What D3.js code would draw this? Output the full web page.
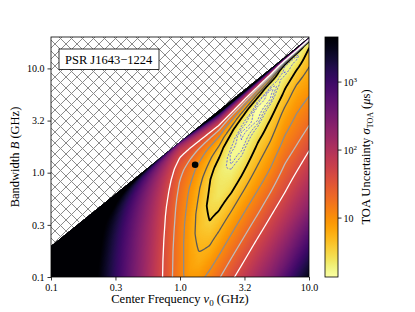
<!DOCTYPE html>
<html lang="en">
<head>
<meta charset="UTF-8">
<title>TOA uncertainty</title>
<style>
  body { margin: 0; background: #fff; }
  svg text { font-family: "Liberation Serif", "DejaVu Serif", serif; fill: #000; }
</style>
</head>
<body>
<svg id="chart" width="415" height="312"></svg>
<script src="https://d3js.org/d3.v7.min.js"></script>
<script>
/* global d3 */

// grid columns: center frequency nu0 (GHz)
const centerFreqs = [0.1, 0.2, 0.3, 0.4, 0.5, 0.6, 0.7, 0.8, 0.9, 1.0, 1.2, 1.4, 1.7, 2.0, 2.5, 3.0, 4.0, 5.0, 6.5, 8.0, 10.0];
// grid rows: fractional bandwidth B / (2 nu0); 1 means the band reaches 0 GHz
const bwRatios = [1.0, 0.98, 0.95, 0.9, 0.85, 0.8, 0.7, 0.6, 0.5, 0.4, 0.3, 0.25, 0.15, 0.1, 0.05, 0.025, 0.01, 0.004];
// log10 of the TOA uncertainty (us), one row per bwRatio, one column per centerFreq
const logSigma = [
  [4, 4, 4, 4, 4, 4, 4, 4, 4, 4, 4, 4, 4, 4, 4, 4, 4, 4, 4, 4, 4],
  [4, 4, 4, 4, 3.88, 3.58, 3.32, 3.09, 2.90, 2.85, 3.40, 3.93, 4, 4, 4, 4, 4, 4, 4, 4, 3.30],
  [4, 4, 4, 3.87, 3.50, 3.19, 2.93, 2.71, 2.51, 2.44, 2.78, 3.13, 3.61, 4, 3.96, 3.86, 3.53, 3.15, 2.60, 2.30, 1.60],
  [4, 4, 4, 3.58, 3.21, 2.90, 2.64, 2.42, 2.22, 2.12, 2.32, 2.52, 2.82, 3.08, 2.94, 2.79, 2.43, 2.05, 1.20, 0.90, 0.30],
  [4, 4, 3.89, 3.41, 3.04, 2.73, 2.47, 2.25, 2.05, 1.94, 2.05, 2.17, 2.36, 2.53, 2.34, 2.17, 1.78, 1.40, 0.60, 0.35, 0.28],
  [4, 4, 3.77, 3.29, 2.92, 2.61, 2.35, 2.13, 1.93, 1.81, 1.85, 1.92, 2.03, 2.13, 1.92, 1.72, 1.32, 0.95, 0.25, 0.22, 0.50],
  [4, 4, 3.60, 3.12, 2.75, 2.44, 2.18, 1.96, 1.76, 1.63, 1.58, 1.57, 1.57, 1.57, 1.32, 1.10, 0.70, 0.36, 0.22, 0.35, 0.60],
  [4, 4, 3.48, 3.00, 2.63, 2.32, 2.06, 1.84, 1.64, 1.50, 1.39, 1.32, 1.24, 1.18, 0.90, 0.65, 0.27, 0.13, 0.36, 0.52, 0.68],
  [4, 4, 3.39, 2.91, 2.53, 2.23, 1.97, 1.74, 1.55, 1.39, 1.24, 1.12, 0.98, 0.87, 0.57, 0.33, 0.11, 0.18, 0.50, 0.66, 0.76],
  [4, 3.99, 3.31, 2.83, 2.46, 2.15, 1.89, 1.67, 1.47, 1.31, 1.12, 0.96, 0.78, 0.62, 0.33, 0.16, 0.17, 0.38, 0.64, 0.80, 0.86],
  [4, 3.93, 3.25, 2.77, 2.39, 2.09, 1.83, 1.60, 1.41, 1.24, 1.01, 0.83, 0.60, 0.43, 0.21, 0.19, 0.38, 0.56, 0.80, 0.92, 0.98],
  [4, 3.90, 3.22, 2.74, 2.36, 2.06, 1.80, 1.57, 1.38, 1.21, 0.97, 0.77, 0.53, 0.36, 0.22, 0.26, 0.50, 0.64, 0.88, 1.00, 1.07],
  [4, 3.85, 3.17, 2.68, 2.31, 2.01, 1.75, 1.52, 1.33, 1.15, 0.89, 0.67, 0.46, 0.38, 0.43, 0.54, 0.74, 0.88, 1.10, 1.20, 1.30],
  [4, 3.82, 3.14, 2.66, 2.29, 1.98, 1.72, 1.50, 1.30, 1.13, 0.86, 0.66, 0.52, 0.55, 0.66, 0.77, 0.94, 1.08, 1.30, 1.40, 1.52],
  [4, 3.80, 3.12, 2.64, 2.26, 1.96, 1.70, 1.48, 1.28, 1.12, 0.88, 0.79, 0.82, 0.91, 1.05, 1.16, 1.33, 1.47, 1.63, 1.76, 1.89],
  [4, 3.79, 3.11, 2.63, 2.25, 1.95, 1.69, 1.47, 1.30, 1.16, 1.07, 1.10, 1.21, 1.30, 1.44, 1.55, 1.73, 1.86, 2.02, 2.15, 2.28],
  [4, 3.78, 3.10, 2.62, 2.25, 1.94, 1.70, 1.53, 1.45, 1.45, 1.51, 1.60, 1.72, 1.82, 1.96, 2.07, 2.24, 2.38, 2.60, 2.80, 3.00],
  [4, 3.78, 3.10, 2.62, 2.24, 1.98, 1.84, 1.83, 1.87, 1.92, 2.03, 2.12, 2.24, 2.34, 2.47, 2.59, 2.76, 3.00, 3.30, 3.50, 3.70]
];

// contour levels (us)
const dashedLevels = [1.5, 1.7, 1.9];
const lineLevels = [3.3, 5.6, 10.8, 21.5, 43];

// current observing setup (black dot)
const setupFreq = [1.31];
const setupBW = [1.19];

const colorRange = [1.36, 4600];
const xTicks = [0.1, 0.316, 1, 3.16, 10];
const xTickLabels = ["0.1", "0.3", "1.0", "3.2", "10.0"];
const yTicks = [0.1, 0.316, 1, 3.16, 10];
const yTickLabels = ["0.1", "0.3", "1.0", "3.2", "10.0"];
const cbTicks = [10, 100, 1000];
const cbTickExp = ["", "2", "3"];

const svg = d3.select("#chart");
const pLeft = 51, pRight = 309, pTop = 37, pBottom = 277;
const x = d3.scaleLog().domain([0.1, 10]).range([pLeft, pRight]);
const y = d3.scaleLog().domain([0.1, 20]).range([pBottom, pTop]);
const color = d3.scaleSequentialLog(t => d3.interpolateInferno(1 - t)).domain(colorRange).clamp(true);

// bilinear lookup in (log nu0, log ratio)
const uCols = centerFreqs.map(Math.log10);
const wRows = bwRatios.map(Math.log10);
function lookup(u, w) {
  u = Math.max(uCols[0], Math.min(uCols[uCols.length - 1], u));
  w = Math.min(0, Math.max(wRows[wRows.length - 1], w));
  let i = d3.bisectRight(uCols, u) - 1;
  i = Math.max(0, Math.min(uCols.length - 2, i));
  let k = 0;
  while (k < wRows.length - 2 && wRows[k + 1] > w) k++;
  const fu = (u - uCols[i]) / (uCols[i + 1] - uCols[i]);
  const fw = (wRows[k] - w) / (wRows[k] - wRows[k + 1]);
  const a = logSigma[k][i], b = logSigma[k][i + 1];
  const c = logSigma[k + 1][i], d = logSigma[k + 1][i + 1];
  return (a * (1 - fu) + b * fu) * (1 - fw) + (c * (1 - fu) + d * fu) * fw;
}

const W = pRight - pLeft, H = pBottom - pTop, pad = 2;
const gw = W + 2 * pad, gh = H + 2 * pad;
const field = new Array(gw * gh);
const canvas = document.createElement("canvas");
canvas.width = W; canvas.height = H;
const ctx = canvas.getContext("2d");
const img = ctx.createImageData(W, H);
for (let j = 0; j < gh; j++) {
  const B = y.invert(pTop - pad + j + 0.5);
  for (let i = 0; i < gw; i++) {
    const nu = x.invert(pLeft - pad + i + 0.5);
    const w = Math.log10(B / (2 * nu));
    const v = w > 0 ? 4 : lookup(Math.log10(nu), w);
    field[j * gw + i] = v;
    const ii = i - pad, jj = j - pad;
    if (ii >= 0 && ii < W && jj >= 0 && jj < H && w <= 0) {
      const c = d3.rgb(color(Math.pow(10, v)));
      const o = 4 * (jj * W + ii);
      img.data[o] = c.r; img.data[o + 1] = c.g; img.data[o + 2] = c.b; img.data[o + 3] = 255;
    }
  }
}
ctx.putImageData(img, 0, 0);

const defs = svg.append("defs");
defs.append("clipPath").attr("id", "plotclip")
  .append("rect").attr("x", pLeft).attr("y", pTop).attr("width", W).attr("height", H);

const hatch = defs.append("pattern").attr("id", "hatch")
  .attr("patternUnits", "userSpaceOnUse").attr("width", 11).attr("height", 11);
hatch.append("rect").attr("width", 11).attr("height", 11).attr("fill", "#fff");
hatch.append("path").attr("d", "M0,0L11,11M11,0L0,11M-1,10L1,12M10,-1L12,1")
  .attr("stroke", "#8a8a8a").attr("stroke-width", 1).attr("fill", "none");

svg.append("image").attr("x", pLeft).attr("y", pTop).attr("width", W).attr("height", H)
  .attr("href", canvas.toDataURL());

// region where the band would reach below 0 GHz
svg.append("path")
  .attr("d", d3.line()([[x(0.1), y(0.2)], [x(10), y(20)], [x(0.1), y(20)]]) + "Z")
  .attr("fill", "url(#hatch)");

// contours
const contourGen = d3.contours().size([gw, gh]);
const geo = d3.geoPath();
const cg = svg.append("g").attr("clip-path", "url(#plotclip)")
  .append("g").attr("transform", `translate(${pLeft - pad},${pTop - pad})`);
const lineStyles = [
  {stroke: "#000000", width: 1.8},
  {stroke: "#595959", width: 1.3},
  {stroke: "#8c8c8c", width: 1.3},
  {stroke: "#bdbdbd", width: 1.3},
  {stroke: "#ffffff", width: 1.3}
];
lineLevels.forEach((lev, i) => {
  cg.append("path").attr("d", geo(contourGen.contour(field, Math.log10(lev))))
    .attr("fill", "none").attr("stroke", lineStyles[i].stroke)
    .attr("stroke-width", lineStyles[i].width).attr("stroke-linejoin", "round");
});
dashedLevels.forEach(lev => {
  cg.append("path").attr("d", geo(contourGen.contour(field, Math.log10(lev))))
    .attr("fill", "none").attr("stroke", "#3a3aff")
    .attr("stroke-width", 0.8).attr("stroke-dasharray", "2,1.5");
});

// current setup
svg.selectAll("circle.setup").data(setupFreq).join("circle").attr("class", "setup")
  .attr("cx", d => x(d)).attr("cy", (d, i) => y(setupBW[i])).attr("r", 3.3).attr("fill", "#000");

// frame and axes
svg.append("rect").attr("x", pLeft).attr("y", pTop).attr("width", W).attr("height", H)
  .attr("fill", "none").attr("stroke", "#000").attr("stroke-width", 0.8);

const xAxis = svg.append("g").attr("transform", `translate(0,${pBottom})`)
  .call(d3.axisBottom(x).tickValues(xTicks).tickFormat((d, i) => xTickLabels[i]).tickSize(3.5).tickSizeOuter(0));
const yAxis = svg.append("g").attr("transform", `translate(${pLeft},0)`)
  .call(d3.axisLeft(y).tickValues(yTicks).tickFormat((d, i) => yTickLabels[i]).tickSize(3.5).tickSizeOuter(0));
[xAxis, yAxis].forEach(a => {
  a.select(".domain").remove();
  a.selectAll("line").attr("stroke", "#000").attr("stroke-width", 0.8);
  a.selectAll("text").attr("font-family", "Liberation Serif").attr("font-size", 10).attr("fill", "#000");
});

svg.append("text").attr("x", (pLeft + pRight) / 2).attr("y", 303).attr("text-anchor", "middle")
  .attr("font-size", 12.5)
  .call(t => {
    t.append("tspan").text("Center Frequency ");
    t.append("tspan").attr("font-style", "italic").text("ν");
    t.append("tspan").attr("font-size", 9).attr("dy", 2.5).text("0");
    t.append("tspan").attr("dy", -2.5).text(" (GHz)");
  });
svg.append("text").attr("transform", `translate(19,${(pTop + pBottom) / 2}) rotate(-90)`)
  .attr("text-anchor", "middle").attr("font-size", 12.5)
  .call(t => {
    t.append("tspan").text("Bandwidth ");
    t.append("tspan").attr("font-style", "italic").text("B");
    t.append("tspan").text(" (GHz)");
  });

// pulsar label
svg.append("rect").attr("x", 59).attr("y", 49).attr("width", 100).attr("height", 20.5)
  .attr("fill", "#fff").attr("stroke", "#000").attr("stroke-width", 0.8);
svg.append("text").attr("x", 65).attr("y", 63.5).attr("font-size", 12.5).text("PSR J1643\u22121224");

// colorbar
const cbX = 325, cbW = 13;
const cb = d3.scaleLog().domain(colorRange).range([pBottom, pTop]);
const grad = defs.append("linearGradient").attr("id", "cbgrad")
  .attr("x1", 0).attr("y1", 1).attr("x2", 0).attr("y2", 0);
d3.range(0, 1.0001, 1 / 40).forEach(t => {
  grad.append("stop").attr("offset", t).attr("stop-color", d3.interpolateInferno(1 - t));
});
svg.append("rect").attr("x", cbX).attr("y", pTop).attr("width", cbW).attr("height", H)
  .attr("fill", "url(#cbgrad)").attr("stroke", "#000").attr("stroke-width", 0.8);
const cbg = svg.append("g");
cbTicks.forEach((v, i) => {
  cbg.append("line").attr("x1", cbX + cbW).attr("x2", cbX + cbW + 3.5)
    .attr("y1", cb(v)).attr("y2", cb(v)).attr("stroke", "#000").attr("stroke-width", 0.8);
  const t = cbg.append("text").attr("x", cbX + cbW + 5.5).attr("y", cb(v) + 3.5).attr("font-size", 10);
  t.append("tspan").text("10");
  if (cbTickExp[i]) t.append("tspan").attr("font-size", 7).attr("dy", -4).text(cbTickExp[i]);
});
svg.append("text").attr("transform", `translate(370,${(pTop + pBottom) / 2}) rotate(-90)`)
  .attr("text-anchor", "middle").attr("font-size", 12.5)
  .call(t => {
    t.append("tspan").text("TOA Uncertainty ");
    t.append("tspan").attr("font-style", "italic").text("σ");
    t.append("tspan").attr("font-size", 8).attr("dy", 2.5).text("TOA");
    t.append("tspan").attr("dy", -2.5).text(" (");
    t.append("tspan").attr("font-style", "italic").text("μ");
    t.append("tspan").text("s)");
  });
</script>
</body>
</html>
